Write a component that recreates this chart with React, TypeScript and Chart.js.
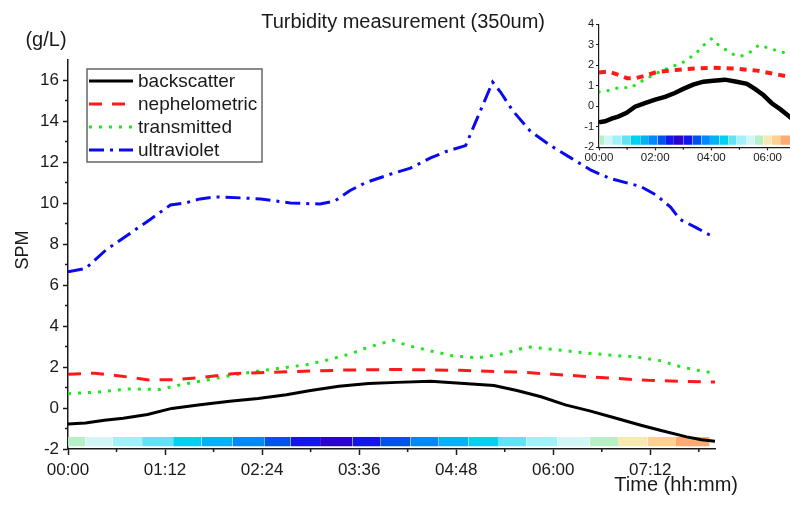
import React, { useEffect, useRef } from 'react';
import { Chart, registerables } from 'chart.js';

Chart.register(...registerables);

// ---- data (time in minutes from 00:00) ----
const backscatterTime = [0, 13, 27, 41, 59, 77, 98, 120, 141, 162, 180, 201, 223, 244, 269, 294, 316, 333, 351, 369, 387, 404, 425, 440, 459, 470, 480];
const backscatterValue = [-0.78, -0.73, -0.6, -0.5, -0.32, -0.02, 0.16, 0.33, 0.46, 0.65, 0.85, 1.06, 1.2, 1.25, 1.3, 1.2, 1.1, 0.85, 0.55, 0.15, -0.14, -0.45, -0.84, -1.1, -1.41, -1.55, -1.62];

const nephelometricTime = [0, 20, 40, 60, 80, 100, 124, 164, 205, 242, 291, 338, 370, 402, 430, 455, 480];
const nephelometricValue = [1.65, 1.7, 1.55, 1.37, 1.38, 1.5, 1.68, 1.77, 1.85, 1.88, 1.84, 1.74, 1.6, 1.46, 1.35, 1.3, 1.27];

const transmittedTime = [0, 23, 45, 68, 84, 100, 120, 137, 158, 177, 195, 210, 222, 231, 241, 253, 270, 286, 304, 323, 341, 363, 383, 402, 420, 440, 455, 470, 480];
const transmittedValue = [0.7, 0.78, 0.93, 0.9, 1.14, 1.33, 1.58, 1.76, 1.95, 2.11, 2.38, 2.65, 2.95, 3.12, 3.3, 3.03, 2.77, 2.54, 2.45, 2.65, 2.98, 2.84, 2.69, 2.58, 2.5, 2.3, 2.0, 1.8, 1.7];

const ultravioletTime = [0, 13, 28, 61, 76, 87, 98, 109, 128, 143, 165, 187, 198, 209, 221, 239, 254, 269, 280, 295, 315, 321, 330, 343, 358, 373, 388, 402, 425, 436, 447, 454, 466, 480];
const ultravioletValue = [6.65, 6.8, 7.7, 9.2, 9.9, 10.0, 10.2, 10.3, 10.25, 10.2, 10.0, 9.95, 10.1, 10.6, 11.0, 11.4, 11.7, 12.2, 12.5, 12.8, 15.9, 15.4, 14.5, 13.5, 12.8, 12.2, 11.6, 11.2, 10.8, 10.4, 9.8, 9.2, 8.8, 8.3];

const seriesLabels = ['backscatter', 'nephelometric', 'transmitted', 'ultraviolet'];

// colour strip along the bottom
const stripColors = ['#b6f0c4', '#d2f6f6', '#a2f0f8', '#62e2f2', '#00d0f2', '#00b2f6', '#0088fc', '#0052ee', '#1414ee', '#2c04d2', '#1414ee', '#0052ee', '#0088fc', '#00b2f6', '#00d0f2', '#62e2f2', '#a2f0f8', '#d2f6f6', '#b6f0c4', '#f8e8b2', '#ffd092', '#ffaa72'];
const stripEdgesMain = [0, 13, 33, 55, 78, 99, 122, 146, 165, 187, 211, 232, 254, 275, 297, 319, 340, 363, 387, 408, 430, 451, 476];
const stripEdgesInset = [2, 11, 28, 48, 68, 88, 105, 125, 143, 160, 180, 200, 219, 237, 257, 276, 294, 314, 333, 351, 369, 387, 430];
const stripLow = -1.87;
const stripHigh = -1.42;

const mainXTicks = [0, 72, 144, 216, 288, 360, 432];
const mainXMinor = [36, 108, 180, 252, 324, 396, 468];
const mainYTicks = [-2, 0, 2, 4, 6, 8, 10, 12, 14, 16];
const mainYMinor = [-1, 1, 3, 5, 7, 9, 11, 13, 15];
const insetXTicks = [0, 120, 240, 360];
const insetXMinor = [60, 180, 300];
const insetYTicks = [-2, -1, 0, 1, 2, 3, 4];

const FONT = 'Liberation Sans, Arial, sans-serif';
const INK = '#1a1a1a';

const mainStyles = [
  { color: '#000000', dash: [] as number[], width: 3, cap: 'butt' },
  { color: '#ff1a1a', dash: [13, 10], width: 3, cap: 'butt' },
  { color: '#1ee61e', dash: [3, 7], width: 3, cap: 'butt' },
  { color: '#0a0af0', dash: [15, 6, 3, 6], width: 3, cap: 'butt' },
];
const insetStyles = [
  { color: '#000000', dash: [] as number[], width: 4.5, cap: 'butt' },
  { color: '#ff1a1a', dash: [7, 6], width: 4, cap: 'butt' },
  { color: '#1ee61e', dash: [0.1, 9], width: 3.2, cap: 'round' },
  { color: '#0a0af0', dash: [15, 6, 3, 6], width: 3, cap: 'butt' },
];

const seriesTimes = [backscatterTime, nephelometricTime, transmittedTime, ultravioletTime];
const seriesValues = [backscatterValue, nephelometricValue, transmittedValue, ultravioletValue];

function pts(t: number[], v: number[]) {
  return t.map((x, i) => ({ x, y: v[i] }));
}
function fmt(m: number) {
  const h = Math.floor(m / 60);
  const mm = Math.round(m - h * 60);
  return String(h).padStart(2, '0') + ':' + String(mm).padStart(2, '0');
}

function buildDatasets(styles: any[], edges: number[]) {
  const lines = seriesLabels.map((label, i) => ({
    type: 'line',
    label,
    data: pts(seriesTimes[i], seriesValues[i]),
    borderColor: styles[i].color,
    borderDash: styles[i].dash,
    borderWidth: styles[i].width,
    borderCapStyle: styles[i].cap,
    pointRadius: 0,
    tension: 0,
    fill: false,
    order: i,
  }));
  const strips = stripColors.map((c, i) => ({
    type: 'line',
    label: 'strip' + i,
    data: [
      { x: edges[i], y: stripHigh },
      { x: edges[i + 1], y: stripHigh },
    ],
    borderColor: 'transparent',
    borderWidth: 0,
    backgroundColor: c,
    pointRadius: 0,
    fill: { value: stripLow },
    order: 20,
  }));
  return [...strips, ...lines];
}

const minorTicksPlugin = {
  id: 'minorTicks',
  afterDraw(chart: any, _args: any, opts: any) {
    const { ctx, chartArea } = chart;
    const xs = chart.scales.x;
    const ys = chart.scales.y;
    ctx.save();
    ctx.strokeStyle = INK;
    ctx.lineWidth = opts.width || 1.5;
    ctx.beginPath();
    (opts.x || []).forEach((v: number) => {
      const p = xs.getPixelForValue(v);
      ctx.moveTo(p, chartArea.bottom);
      ctx.lineTo(p, chartArea.bottom + opts.len);
    });
    (opts.y || []).forEach((v: number) => {
      const p = ys.getPixelForValue(v);
      ctx.moveTo(chartArea.left, p);
      ctx.lineTo(chartArea.left - opts.len, p);
    });
    ctx.stroke();
    ctx.restore();
  },
};

const mainDecorPlugin = {
  id: 'mainDecor',
  afterDraw(chart: any) {
    const { ctx } = chart;
    ctx.save();
    ctx.fillStyle = INK;
    // title
    ctx.font = `20px ${FONT}`;
    ctx.textAlign = 'right';
    ctx.textBaseline = 'alphabetic';
    ctx.fillText('Turbidity measurement (350um)', 545, 28);
    // unit
    ctx.textAlign = 'center';
    ctx.fillText('(g/L)', 46, 46);
    // x title
    ctx.textAlign = 'right';
    ctx.fillText('Time (hh:mm)', 738, 491);
    // y title
    ctx.save();
    ctx.font = `18px ${FONT}`;
    ctx.translate(28, 250);
    ctx.rotate(-Math.PI / 2);
    ctx.textAlign = 'center';
    ctx.fillText('SPM', 0, 0);
    ctx.restore();

    // legend
    const bx = 87, by = 69, bw = 175, bh = 93;
    ctx.strokeStyle = '#666666';
    ctx.lineWidth = 1.5;
    ctx.strokeRect(bx, by, bw, bh);
    const rows = [81, 104, 127, 150];
    ctx.font = `19px ${FONT}`;
    ctx.textAlign = 'left';
    ctx.textBaseline = 'middle';
    seriesLabels.forEach((label, i) => {
      const ds = chart.data.datasets.find((d: any) => d.label === label);
      ctx.save();
      ctx.strokeStyle = ds.borderColor;
      ctx.lineWidth = ds.borderWidth;
      ctx.setLineDash(ds.borderDash || []);
      ctx.lineCap = ds.borderCapStyle || 'butt';
      ctx.beginPath();
      ctx.moveTo(89, rows[i]);
      ctx.lineTo(133, rows[i]);
      ctx.stroke();
      ctx.restore();
      ctx.fillStyle = INK;
      ctx.fillText(label, 138, rows[i] + 1);
    });
    ctx.restore();
  },
};

function MainChart() {
  const ref = useRef<HTMLCanvasElement>(null);
  useEffect(() => {
    if (!ref.current) return;
    const chart = new Chart(ref.current, {
      type: 'line',
      data: { datasets: buildDatasets(mainStyles, stripEdgesMain) as any },
      options: {
        responsive: false,
        animation: false,
        devicePixelRatio: 1,
        layout: { padding: { top: 59.5, right: 75, left: 0, bottom: 0 } },
        plugins: {
          legend: { display: false },
          title: { display: false },
          tooltip: { enabled: false },
          minorTicks: { x: mainXMinor, y: mainYMinor, len: 3, width: 1.5 },
        } as any,
        scales: {
          x: {
            type: 'linear',
            min: 0,
            max: 480,
            afterBuildTicks: (s: any) => {
              s.ticks = mainXTicks.map((v) => ({ value: v }));
            },
            afterFit: (s: any) => {
              s.height = 58;
            },
            ticks: {
              callback: (v: any) => fmt(Number(v)),
              font: { family: FONT, size: 17 },
              color: INK,
              maxRotation: 0,
              autoSkip: false,
              padding: 5,
            },
            grid: { drawOnChartArea: false, tickLength: 6, tickWidth: 1.5, tickColor: INK },
            border: { color: INK, width: 1.5 },
          },
          y: {
            type: 'linear',
            min: -2,
            max: 17,
            afterBuildTicks: (s: any) => {
              s.ticks = mainYTicks.map((v) => ({ value: v }));
            },
            afterFit: (s: any) => {
              s.width = 68;
            },
            ticks: {
              font: { family: FONT, size: 17 },
              color: INK,
              padding: 4,
            },
            grid: { drawOnChartArea: false, tickLength: 5, tickWidth: 1.5, tickColor: INK },
            border: { color: INK, width: 1.5 },
          },
        },
      },
      plugins: [minorTicksPlugin, mainDecorPlugin],
    } as any);
    return () => chart.destroy();
  }, []);
  return <canvas ref={ref} width={790} height={507} style={{ position: 'absolute', left: 0, top: 0, width: 790, height: 507 }} />;
}

function InsetChart() {
  const ref = useRef<HTMLCanvasElement>(null);
  useEffect(() => {
    if (!ref.current) return;
    const chart = new Chart(ref.current, {
      type: 'line',
      data: { datasets: buildDatasets(insetStyles, stripEdgesInset) as any },
      options: {
        responsive: false,
        animation: false,
        devicePixelRatio: 1,
        layout: { padding: { top: 24.3, right: 0, left: 0, bottom: 0 } },
        plugins: {
          legend: { display: false },
          title: { display: false },
          tooltip: { enabled: false },
          minorTicks: { x: insetXMinor, y: [], len: 2.5, width: 1.2 },
        } as any,
        scales: {
          x: {
            type: 'linear',
            min: 0,
            max: 408,
            afterBuildTicks: (s: any) => {
              s.ticks = insetXTicks.map((v) => ({ value: v }));
            },
            afterFit: (s: any) => {
              s.height = 27.7;
            },
            ticks: {
              callback: (v: any) => fmt(Number(v)),
              font: { family: FONT, size: 11.5 },
              color: INK,
              maxRotation: 0,
              autoSkip: false,
              padding: 1,
            },
            grid: { drawOnChartArea: false, tickLength: 3, tickWidth: 1.2, tickColor: INK },
            border: { color: INK, width: 1.2 },
          },
          y: {
            type: 'linear',
            min: -2,
            max: 4,
            afterBuildTicks: (s: any) => {
              s.ticks = insetYTicks.map((v) => ({ value: v }));
            },
            afterFit: (s: any) => {
              s.width = 39;
            },
            ticks: {
              font: { family: FONT, size: 11 },
              color: INK,
              padding: 2,
            },
            grid: { drawOnChartArea: false, tickLength: 3, tickWidth: 1.2, tickColor: INK },
            border: { color: INK, width: 1.2 },
          },
        },
      },
      plugins: [minorTicksPlugin],
    } as any);
    return () => chart.destroy();
  }, []);
  return <canvas ref={ref} width={230} height={175} style={{ position: 'absolute', left: 560, top: 0, width: 230, height: 175 }} />;
}

export default function App() {
  return (
    <div style={{ position: 'fixed', left: 0, top: 0, width: 790, height: 507, background: '#ffffff', overflow: 'hidden' }}>
      <MainChart />
      <InsetChart />
    </div>
  );
}
